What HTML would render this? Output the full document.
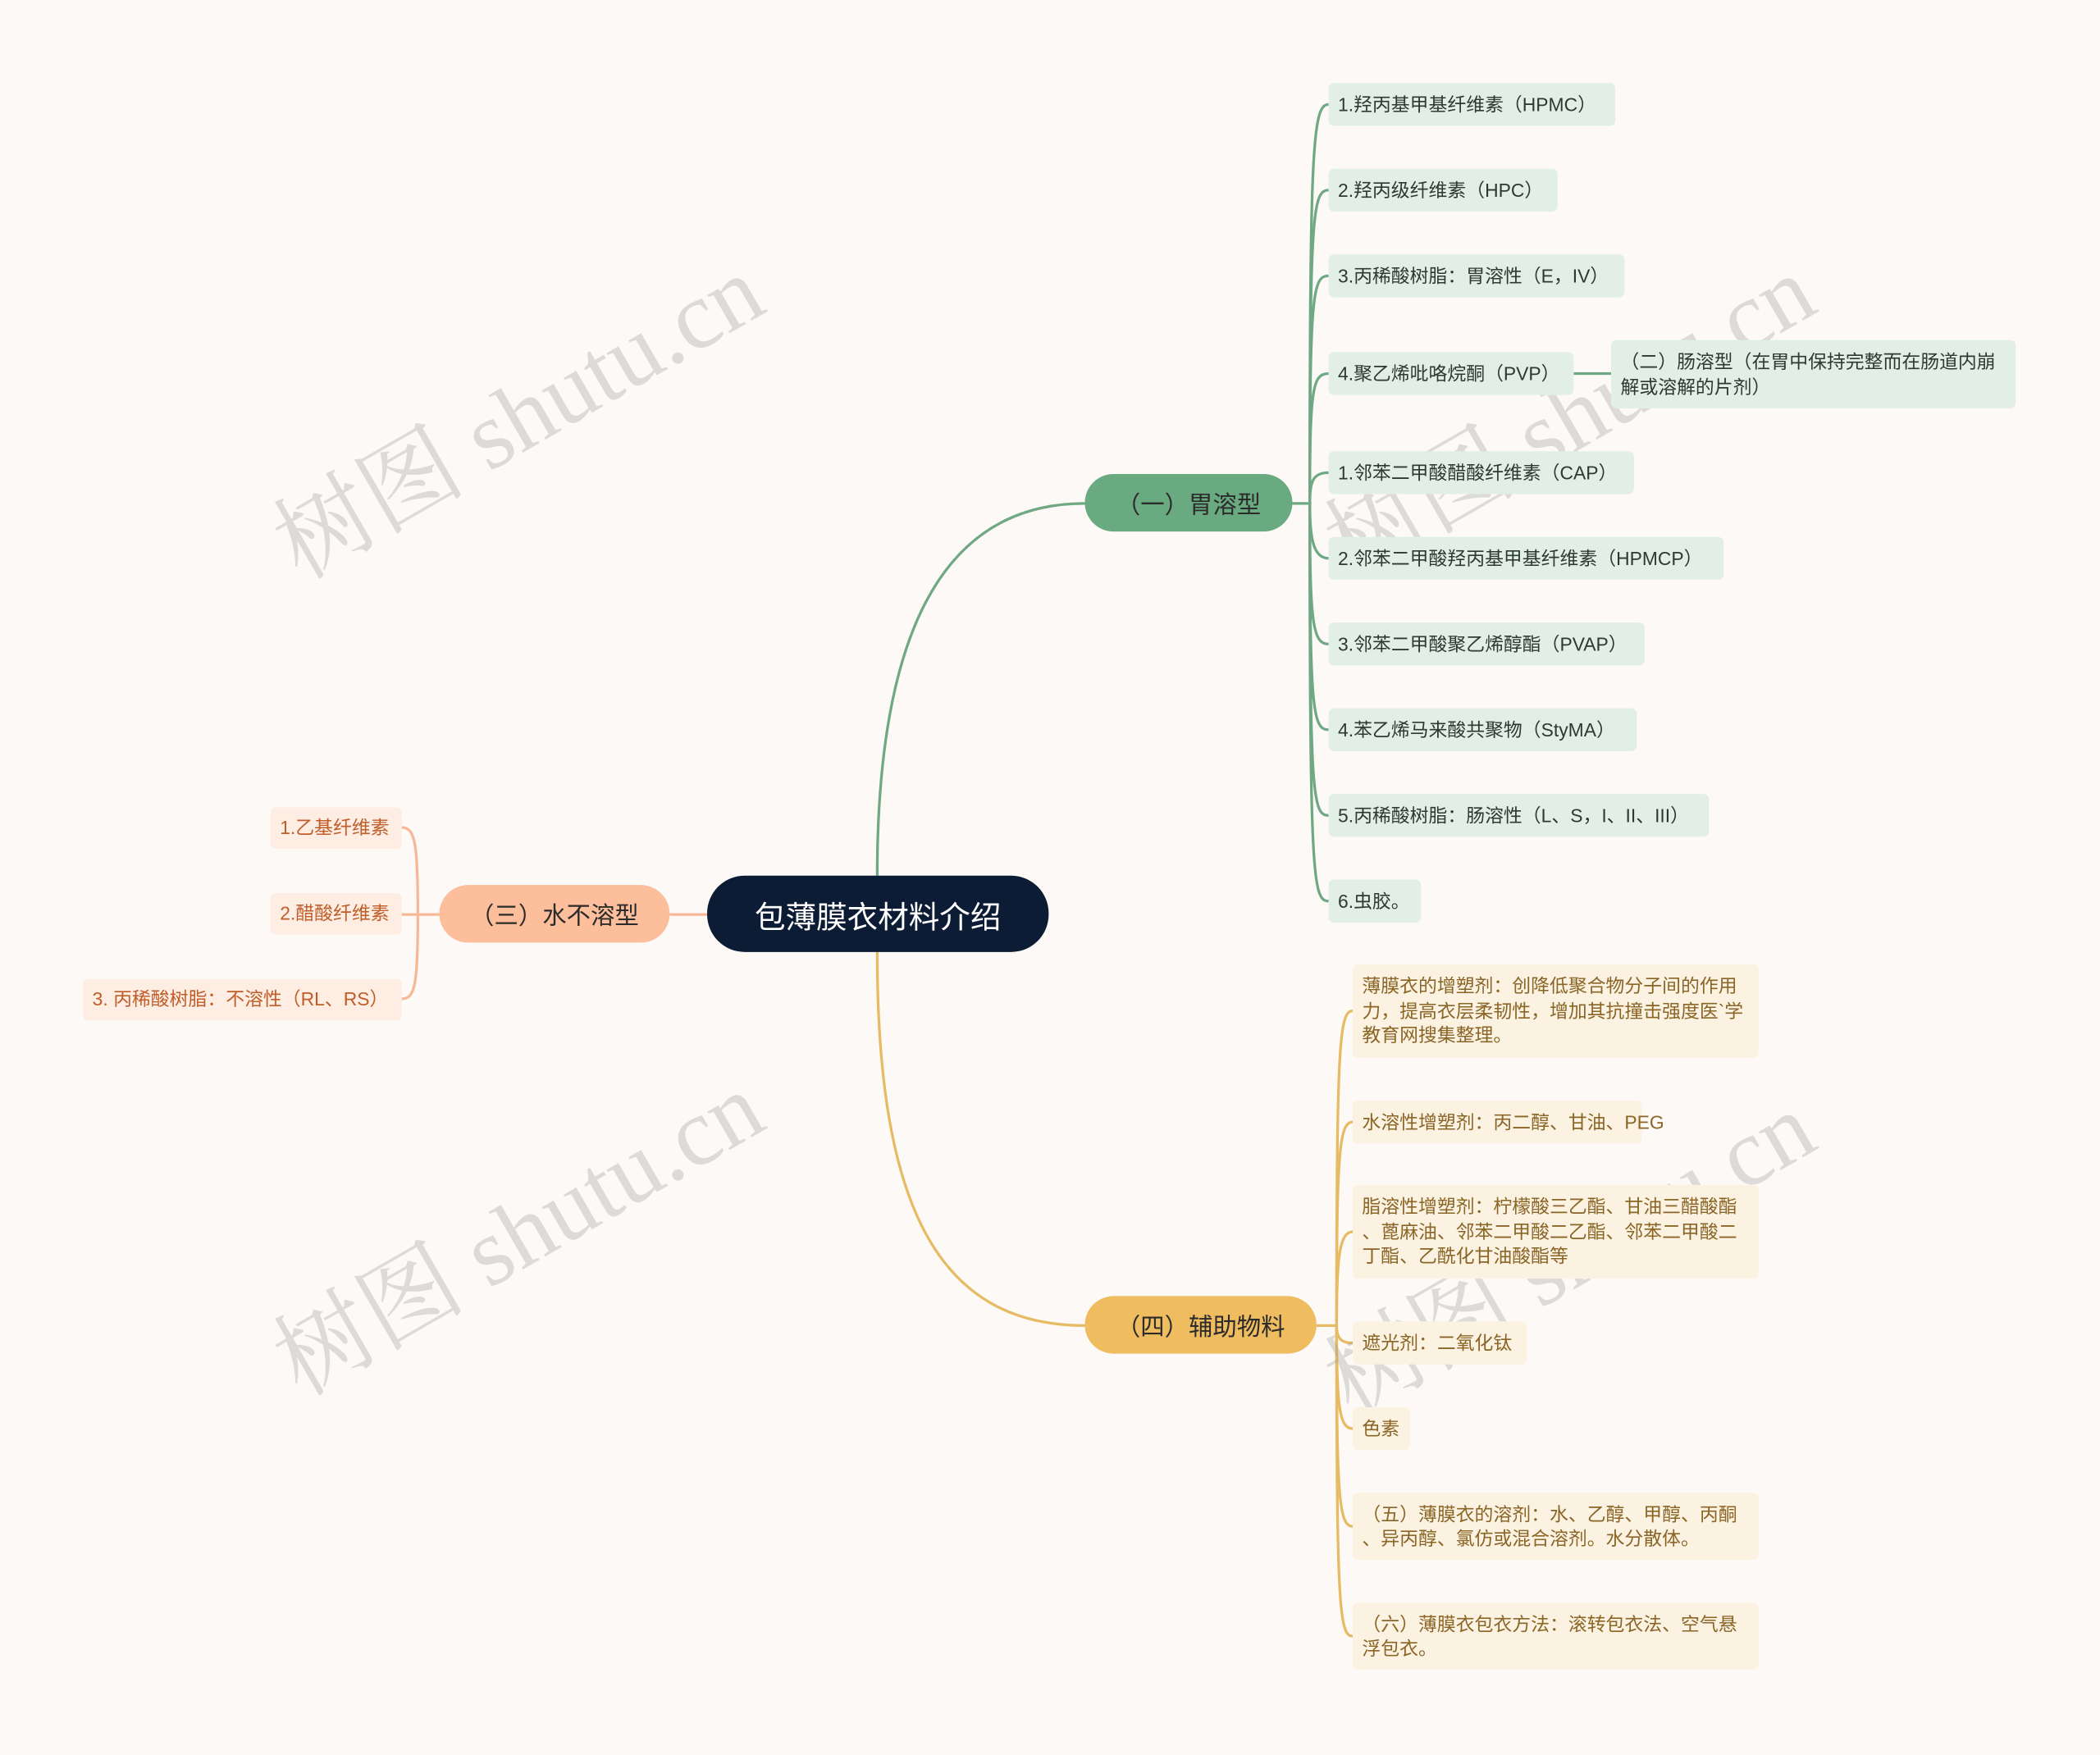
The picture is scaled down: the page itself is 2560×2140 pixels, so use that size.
<!DOCTYPE html>
<html><head><meta charset="utf-8">
<style>
html,body{margin:0;padding:0;background:#fdf9f7;}
body{width:2560px;height:2140px;overflow:hidden;}
#w{position:absolute;left:0;top:0;width:1568px;height:1311px;transform:scale(1.63265);transform-origin:0 0;font-family:"Liberation Sans","Noto Sans CJK SC",sans-serif;}
.n{position:absolute;box-sizing:border-box;border-radius:4px;font-size:14px;line-height:18.5px;padding:0 7px;display:flex;align-items:center;white-space:nowrap;}
.g{background:#e2efe6;color:#2c3a31;}
.y{background:#fbf2e2;color:#8a6526;white-space:normal;line-break:anywhere;word-break:break-all;}
.o{background:#fdede3;color:#c05d28;}
.m{position:absolute;box-sizing:border-box;border-radius:22px;display:flex;align-items:center;justify-content:center;font-size:18px;color:#2b2b2b;}
.wm{position:absolute;font-size:72px;color:rgba(150,150,150,0.3);transform:rotate(-30deg);transform-origin:0 100%;white-space:nowrap;font-family:"Liberation Serif","Noto Serif CJK SC",serif;}
</style></head><body><div id="w">
<svg width="1568" height="1311" style="position:absolute;left:0;top:0" fill="none" stroke-width="2">
<g stroke="#6fa882">
<path d="M655,654 C655,480 700,376 810,376"/>
<path d="M965,376 L978,376"/>
<path d="M978,376 C978,110 980,78 992,78"/>
<path d="M978,376 C978,160 980,142 992,142"/>
<path d="M978,376 C978,220 980,206 992,206"/>
<path d="M978,376 C978,290 980,279 992,279"/>
<path d="M978,376 C978,360 980,353 992,353"/>
<path d="M978,376 C978,400 980,417 992,417"/>
<path d="M978,376 C978,465 980,481 992,481"/>
<path d="M978,376 C978,530 980,545 992,545"/>
<path d="M978,376 C978,595 980,609 992,609"/>
<path d="M978,376 C978,655 980,673 992,673"/>
<path d="M1175,279 L1203,279"/>
</g>
<g stroke="#e6bb63">
<path d="M655,711 C655,900 700,990 810,990"/>
<path d="M983,990 L998,990"/>
<path d="M998,990 C998,780 1000,755 1010,755"/>
<path d="M998,990 C998,860 1000,838 1010,838"/>
<path d="M998,990 C998,940 1000,920 1010,920"/>
<path d="M998,990 C998,998 1000,1003 1010,1003"/>
<path d="M998,990 C998,1050 1000,1067 1010,1067"/>
<path d="M998,990 C998,1120 1000,1140 1010,1140"/>
<path d="M998,990 C998,1200 1000,1222 1010,1222"/>
</g>
<g stroke="#f6b896">
<path d="M528,683 L500,683"/>
<path d="M328,683 L312,683"/>
<path d="M312,683 C312,630 310,618 300,618"/>
<path d="M312,683 L300,683"/>
<path d="M312,683 C312,735 310,746 300,746"/>
</g>
</svg>
<div class="wm" style="left:235px;top:348px">树图 shutu.cn</div>
<div class="wm" style="left:235px;top:958px">树图 shutu.cn</div>
<div class="wm" style="left:1020px;top:348px">树图 shutu.cn</div>
<div class="wm" style="left:1020px;top:973px">树图 shutu.cn</div>

<div class="m" style="left:528px;top:654px;width:255px;height:57px;background:#0c1c35;color:#fff;font-size:23px;border-radius:28px">包薄膜衣材料介绍</div>
<div class="m" style="left:810px;top:354px;width:155px;height:43px;background:#6aaa80">（一）胃溶型</div>
<div class="m" style="left:328px;top:661px;width:172px;height:43px;background:#fcbe9b">（三）水不溶型</div>
<div class="m" style="left:810px;top:968px;width:173px;height:43px;background:#f0bc60">（四）辅助物料</div>

<div class="n g" style="left:992px;top:62px;width:214px;height:32px">1.羟丙基甲基纤维素（HPMC）</div>
<div class="n g" style="left:992px;top:126px;width:171px;height:32px">2.羟丙级纤维素（HPC）</div>
<div class="n g" style="left:992px;top:190px;width:221px;height:32px">3.丙稀酸树脂：胃溶性（E，IV）</div>
<div class="n g" style="left:992px;top:263px;width:183px;height:32px">4.聚乙烯吡咯烷酮（PVP）</div>
<div class="n g" style="left:1203px;top:254px;width:302px;height:51px;white-space:normal;line-break:anywhere;word-break:break-all">（二）肠溶型（在胃中保持完整而在肠道内崩解或溶解的片剂）</div>
<div class="n g" style="left:992px;top:337px;width:228px;height:32px">1.邻苯二甲酸醋酸纤维素（CAP）</div>
<div class="n g" style="left:992px;top:401px;width:295px;height:32px">2.邻苯二甲酸羟丙基甲基纤维素（HPMCP）</div>
<div class="n g" style="left:992px;top:465px;width:236px;height:32px">3.邻苯二甲酸聚乙烯醇酯（PVAP）</div>
<div class="n g" style="left:992px;top:529px;width:230px;height:32px">4.苯乙烯马来酸共聚物（StyMA）</div>
<div class="n g" style="left:992px;top:593px;width:284px;height:32px">5.丙稀酸树脂：肠溶性（L、S，I、II、III）</div>
<div class="n g" style="left:992px;top:657px;width:69px;height:32px">6.虫胶。</div>

<div class="n o" style="left:202px;top:603px;width:98px;height:31px">1.乙基纤维素</div>
<div class="n o" style="left:202px;top:667px;width:98px;height:31px">2.醋酸纤维素</div>
<div class="n o" style="left:62px;top:731px;width:238px;height:31px">3. 丙稀酸树脂：不溶性（RL、RS）</div>

<div class="n y" style="left:1010px;top:720px;width:303px;height:70px">薄膜衣的增塑剂：创降低聚合物分子间的作用力，提高衣层柔韧性，增加其抗撞击强度医`学教育网搜集整理。</div>
<div class="n y" style="left:1010px;top:822px;width:216px;height:32px;white-space:nowrap">水溶性增塑剂：丙二醇、甘油、PEG</div>
<div class="n y" style="left:1010px;top:885px;width:303px;height:70px">脂溶性增塑剂：柠檬酸三乙酯、甘油三醋酸酯、蓖麻油、邻苯二甲酸二乙酯、邻苯二甲酸二丁酯、乙酰化甘油酸酯等</div>
<div class="n y" style="left:1010px;top:987px;width:130px;height:32px">遮光剂：二氧化钛</div>
<div class="n y" style="left:1010px;top:1051px;width:43px;height:32px">色素</div>
<div class="n y" style="left:1010px;top:1115px;width:303px;height:50px">（五）薄膜衣的溶剂：水、乙醇、甲醇、丙酮、异丙醇、氯仿或混合溶剂。水分散体。</div>
<div class="n y" style="left:1010px;top:1197px;width:303px;height:50px">（六）薄膜衣包衣方法：滚转包衣法、空气悬浮包衣。</div>
</div></body></html>
